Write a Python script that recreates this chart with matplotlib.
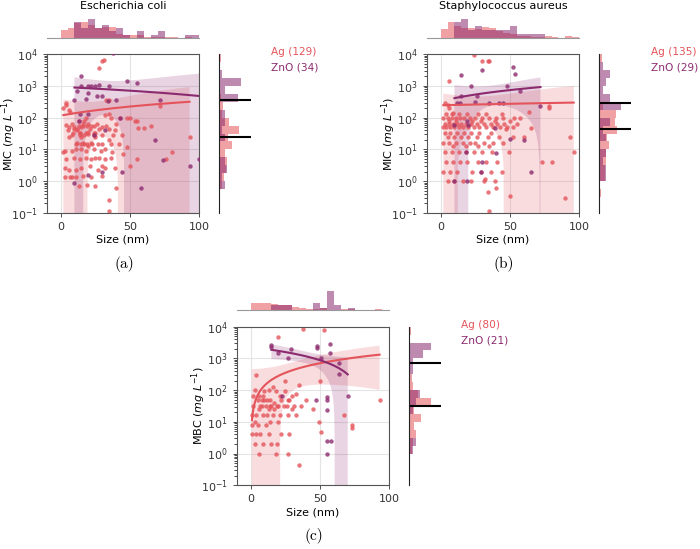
import numpy as np
import matplotlib.pyplot as plt

W, H = 700, 549
AG = "#e4545a"
ZNO = "#8c2a6f"

# (a) Escherichia coli, MIC
ec_ag_size = [31, 30, 28,
              4, 4, 6, 7, 32, 35, 33, 35, 72, 2,
              13, 17, 43, 48, 50, 54, 55, 36,
              13, 16, 19, 22, 24, 33, 65, 60, 56, 4, 8,
              10, 12, 21, 28, 35, 39,
              8, 14, 17, 24, 30, 38, 44, 93,
              11, 15, 17, 19, 23, 27, 30, 36, 42, 48,
              2, 3, 8, 11, 15, 18, 24, 29, 32, 37, 45,
              4, 10, 14, 18, 22, 25, 28, 32, 36, 55,
              3, 6, 11, 15, 21, 27, 32, 39, 50,
              8, 11, 16, 22, 30, 3, 7,
              13, 25, 19, 40,
              35, 35, 80, 76,
              5, 9, 12, 14, 16, 18, 20, 22, 24, 26, 10, 12, 14, 16,
              18, 20, 25, 25, 30, 30, 6, 6, 20, 20, 15, 15, 35, 40]
ec_ag_mic = [6800, 6000, 3800,
             300, 250, 180, 150, 120, 130, 370, 370, 230, 200,
             80, 80, 95, 95, 95, 80, 80, 95,
             55, 55, 55, 55, 55, 55, 55, 46, 46, 60, 64,
             45, 45, 45, 45, 45, 40,
             28, 28, 28, 28, 28, 28, 28, 25,
             15, 15, 15, 15, 15, 15, 15, 15, 15, 12,
             8, 9, 9, 10, 10, 9, 10, 9, 10, 8, 7,
             5, 5.5, 5, 5.5, 5, 5.5, 5.5, 5, 5.5, 5,
             2.5, 2.3, 2.3, 2.5, 3, 2.3, 2.5, 2.5, 3,
             1.3, 1.3, 1.4, 1.3, 1.4, 1.3, 1.3,
             0.7, 0.7, 0.75, 0.6,
             0.26, 0.11, 8, 5,
             40, 32, 16, 32, 64, 100, 35, 16, 32, 64, 50, 40, 32, 16,
             32, 64, 32, 25, 50, 3.1, 50, 25, 30, 12.5, 25, 50, 20, 64]
ec_zno_size = [15, 48, 55, 15, 20, 25, 28, 35, 20, 26, 34, 10, 72, 14, 20, 13, 43,
               24, 32, 74, 100, 58, 10, 20, 30, 44, 18, 30, 12, 40, 22, 68, 93, 38]
ec_zno_mic = [2100, 1450, 1200, 1000, 1000, 1000, 1100, 1000, 600, 480, 330, 370, 350,
              130, 135, 80, 95, 28, 40, 4.5, 5, 0.6, 0.9, 1.6, 2, 2, 400, 500, 700,
              350, 1000, 20, 3, 11000]

# (b) Staphylococcus aureus, MIC
sa_ag_size = [24, 30, 34, 35, 6,
              3, 5, 6, 9, 78, 78, 64, 57, 65, 60, 93, 96, 73, 80, 90, 32, 40, 34, 50, 35,
              2, 4, 7, 10, 13, 16, 20, 24, 28, 33, 38, 43, 48, 52,
              3, 6, 9, 12, 15, 18, 22, 26, 31, 36, 41, 46, 55,
              2, 5, 8, 11, 14, 17, 21, 25, 30, 35, 40, 45, 53,
              4, 8, 13, 19, 27, 33, 44,
              6, 11, 23, 29, 39, 50,
              3, 7, 12, 17, 22, 28, 36, 47,
              5, 10, 15, 20, 26, 34, 42, 52,
              2, 6, 11, 16, 21, 25, 31, 38, 45,
              3, 8, 13, 18, 24, 30, 37, 49,
              4, 9, 14, 19, 27, 33, 41,
              2, 7, 12, 23, 29, 36, 44,
              5, 10, 16, 22, 31, 39,
              9, 18, 27, 35]
sa_ag_mic = [9300, 6000, 6000, 6000, 1450,
             300, 250, 200, 140, 230, 200, 150, 95, 46, 25, 24, 8, 4, 4, 0.3, 1.2, 0.6, 0.45, 0.35, 0.11,
             50, 50, 50, 50, 50, 50, 50, 50, 50, 50, 50, 50, 50, 50,
             64, 64, 64, 64, 64, 64, 64, 64, 64, 64, 64, 64, 64,
             100, 100, 100, 100, 100, 100, 100, 100, 100, 100, 100, 100, 100,
             128, 128, 128, 128, 128, 128, 128,
             80, 80, 80, 80, 80, 80,
             32, 32, 32, 32, 32, 32, 32, 44,
             25, 25, 25, 25, 25, 25, 25, 25,
             16, 16, 16, 16, 16, 16, 16, 16, 16,
             8, 8, 8, 8, 8, 8, 8, 8,
             4, 4, 4, 4, 4, 4, 4,
             2, 2, 2, 2, 2, 2, 2,
             1, 1, 1, 1, 1, 1,
             12.5, 12.5, 12.5, 12.5]
sa_zno_size = [30, 52, 54, 15, 22, 48, 57, 15, 26, 72, 19, 20, 39, 50, 10, 40, 29, 10,
               19, 12, 25, 35, 45, 60, 18, 30, 65, 14, 42]
sa_zno_mic = [3100, 4000, 2350, 2200, 1000, 1000, 700, 480, 480, 230, 80, 60, 46, 22, 60,
              7.5, 2, 1, 1, 300, 320, 300, 290, 20, 8, 4, 2, 300, 290]

# (c) MBC
mbc_ag_size = [38, 53, 20,
               4, 25, 35, 50, 10, 18, 25, 33, 40, 93, 3, 2, 9, 30, 16, 5, 8, 10, 12, 14,
               22, 28, 6, 13, 21, 27, 17,
               2, 7, 11, 14, 15, 19, 20, 24, 31, 8, 26, 36,
               67, 73, 73, 49, 51, 18, 35, 45,
               6, 13, 17, 30,
               1, 4, 9, 12, 16, 21, 27, 33,
               3, 14, 20, 1, 5, 11,
               1, 4, 7, 13, 22, 28,
               3, 9, 15, 19, 6, 27]
mbc_ag_mic = [8300, 7600, 4900,
              300, 190, 140, 200, 95, 95, 95, 77, 50, 50, 100, 64, 64, 64, 128, 50, 50, 50, 50, 50,
              50, 50, 64, 100, 64, 50, 40,
              32, 32, 32, 32, 32, 32, 32, 32, 32, 32, 32, 32,
              16, 8, 6.3, 10, 4.6, 1, 0.43, 25,
              25, 25, 25, 25,
              16, 16, 16, 16, 16, 16, 16, 16,
              10, 10, 10, 8, 8, 8,
              4, 4, 4, 4, 4, 4,
              2, 2, 2, 2, 1, 1]
mbc_zno_size = [57, 48, 48, 15, 15, 29, 57, 27, 20, 51, 64, 64, 70, 23, 47, 55, 55, 55, 55, 58, 55]
mbc_zno_mic = [2900, 2500, 2100, 2700, 2300, 2000, 1500, 1000, 1450, 1000, 330, 700, 65, 65,
               50, 60, 50, 23, 2.5, 2.5, 1.0]


def box(left, top, width, height):
    return [left / W, 1 - (top + height) / H, width / W, height / H]


def fit_band(x, y):
    x = np.asarray(x, float)
    y = np.asarray(y, float)
    n = len(x)
    b, a = np.polyfit(x, y, 1)
    grid = np.linspace(x.min(), x.max(), 200)
    fit = a + b * grid
    s = np.sqrt(np.sum((y - (a + b * x)) ** 2) / (n - 2))
    sxx = np.sum((x - x.mean()) ** 2)
    t = 1.96 + 2.4 / (n - 2)
    half = t * s * np.sqrt(1 / n + (grid - x.mean()) ** 2 / sxx)
    return grid, fit, fit - half, fit + half


fig = plt.figure(figsize=(7, 5.49), dpi=100)
MW, MH = 152.6, 158.5


def panel(left, top, ag, zno, ylabel, letter, title=None):
    ax = fig.add_axes(box(left, top, MW, MH))
    ax_top = fig.add_axes(box(left, top - 36.6, MW, 20), sharex=ax)
    ax_right = fig.add_axes(box(left + MW + 20, top, 32, MH), sharey=ax)
    ax.set_yscale("log")

    xbins = np.arange(0, 105, 5)
    ybins = 10 ** np.arange(-1, 4.01, 0.25)
    widest = 0
    for (x, y), color, z in ((ag, AG, 2), (zno, ZNO, 3)):
        grid, fit, lo, hi = fit_band(x, y)
        ax.fill_between(grid, lo, hi, color=color, alpha=0.2, lw=0, zorder=1)
        ax.scatter(x, y, s=10, color=color, alpha=0.8, lw=0, zorder=z)
        ax.plot(grid, fit, color=color, lw=1.5, zorder=4)

        w = np.full(len(x), 1 / len(x))
        ax_top.hist(x, bins=xbins, weights=w, color=color, alpha=0.55)
        counts, _, _ = ax_right.hist(y, bins=ybins, weights=w, color=color, alpha=0.55,
                                     orientation="horizontal")
        widest = max(widest, counts.max())
        ax_right.axhline(np.median(y), color="black", lw=1.5)

    ax.set_xlim(-10, 100)
    ax.set_ylim(0.1, 1e4)
    ax.set_xticks([0, 50, 100])
    ax.grid(True, which="major", color="#e4e4e4", lw=0.8)
    ax.set_axisbelow(True)
    for sp in ax.spines.values():
        sp.set_color("#555555")
        sp.set_linewidth(0.8)
    ax.tick_params(labelsize=8, length=3, width=0.6, colors="#333333")
    ax.tick_params(which="minor", length=2, width=0.5)
    ax.set_xlabel("Size (nm)", fontsize=8, labelpad=2)
    ax.set_ylabel(ylabel, fontsize=8)
    ax.yaxis.set_label_coords(-29 / MW, 0.5)

    for sp in ("top", "left", "right"):
        ax_top.spines[sp].set_visible(False)
    ax_top.spines["bottom"].set_color("#999999")
    ax_top.tick_params(left=False, bottom=False, labelleft=False, labelbottom=False)
    ax_top.set_ylim(bottom=0)

    for sp in ("top", "bottom", "right"):
        ax_right.spines[sp].set_visible(False)
    ax_right.spines["left"].set_color("#222222")
    ax_right.tick_params(which="both", left=False, bottom=False,
                         labelleft=False, labelbottom=False)
    ax_right.set_xlim(0, widest * 1.5)

    tx = left + MW + 71.5
    fig.text(tx / W, 1 - (top - 2) / H, f"Ag ({len(ag[0])})", color=AG,
             fontsize=7.6, va="center")
    fig.text(tx / W, 1 - (top + 13.5) / H, f"ZnO ({len(zno[0])})", color=ZNO,
             fontsize=7.6, va="center")
    cx = left + MW / 2
    if title:
        fig.text(cx / W, 1 - (top - 48) / H, title, fontsize=8, ha="center", va="center")
    fig.text((cx + 1) / W, 1 - (top + MH + 51) / H, f"({letter})", fontfamily="cmr10",
             fontsize=11, ha="center", va="center")


mic_label = r"MIC ($mg\ L^{-1}$)"
panel(46.7, 54.3, (ec_ag_size, ec_ag_mic), (ec_zno_size, ec_zno_mic), mic_label, "a",
      "Escherichia coli")
panel(426.7, 54.3, (sa_ag_size, sa_ag_mic), (sa_zno_size, sa_zno_mic), mic_label, "b",
      "Staphylococcus aureus")
panel(236.7, 326.7, (mbc_ag_size, mbc_ag_mic), (mbc_zno_size, mbc_zno_mic),
      r"MBC ($mg\ L^{-1}$)", "c")

fig.savefig("out.png", dpi=100)
